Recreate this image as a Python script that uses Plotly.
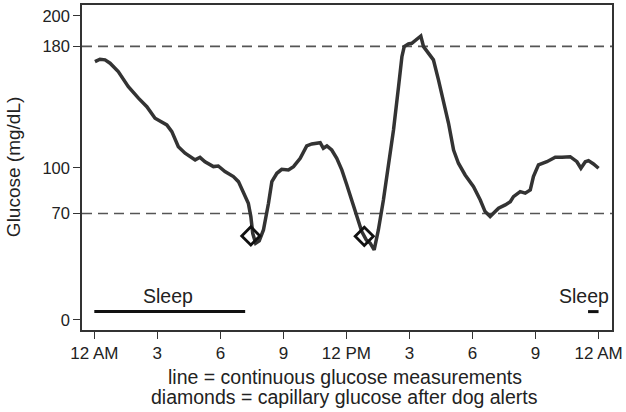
import plotly.graph_objects as go

# Continuous glucose trace (hours since midnight, mg/dL)
cgm_hours = [0.03, 0.27, 0.51, 0.75, 1.14, 1.62, 2.10, 2.50, 2.89, 3.45, 3.69, 4.00, 4.32, 4.80,
             5.03, 5.27, 5.67, 5.90, 6.22, 6.62, 6.86, 7.10, 7.33, 7.45, 7.54, 7.68, 7.85, 8.05,
             8.21, 8.29, 8.45, 8.69, 8.92, 9.24, 9.48, 9.80, 10.11, 10.35, 10.75, 10.90, 11.07,
             11.30, 11.54, 11.78, 12.02, 12.26, 12.50, 12.73, 12.95, 13.13, 13.32, 13.52, 13.76,
             14.00, 14.24, 14.48, 14.64, 14.75, 14.95, 15.11, 15.35, 15.54, 15.67, 15.90, 16.14,
             16.38, 16.62, 16.86, 17.10, 17.33, 17.65, 18.05, 18.37, 18.60, 18.84, 19.08, 19.24,
             19.56, 19.80, 19.95, 20.27, 20.51, 20.75, 20.90, 21.14, 21.54, 21.94, 22.26, 22.65,
             22.97, 23.16, 23.37, 23.52, 23.76, 24.00]
cgm_values = [169.9, 171.5, 171.1, 168.9, 163.4, 153.5, 145.9, 140.3, 132.7, 128.3, 123.9, 114.0,
              109.7, 105.3, 107.0, 104.1, 100.9, 101.3, 97.6, 94.3, 91.0, 84.4, 76.8, 68.0, 57.0,
              50.5, 52.0, 59.2, 70.2, 76.8, 91.0, 96.5, 99.1, 98.7, 100.9, 106.4, 114.5, 115.8,
              116.6, 113.0, 114.5, 111.8, 106.4, 98.7, 88.8, 78.9, 68.0, 58.1, 52.5, 50.5, 46.1,
              59.2, 78.9, 103.1, 125.0, 153.5, 173.2, 179.8, 181.6, 182.0, 184.7, 186.8, 179.8,
              175.5, 171.1, 157.9, 144.7, 129.4, 111.8, 103.1, 95.4, 87.7, 78.9, 71.3, 68.0, 71.3,
              73.5, 75.7, 77.8, 81.1, 84.4, 83.4, 85.5, 94.3, 102.0, 104.1, 107.0, 107.0, 107.4,
              104.1, 99.8, 104.1, 104.8, 102.6, 99.8]

# Capillary glucose after dog alerts
alert_hours = [7.45, 12.85]
alert_values = [55.3, 55.0]

# Sleep periods
sleep_periods = [(0.0, 7.18), (23.5, 24.0)]
sleep_level = 5.5
sleep_label_hours = [3.5, 23.3]
sleep_label_level = 16

# Reference thresholds
thresholds = [70, 180]

x_tickvals = [0, 3, 6, 9, 12, 15, 18, 21, 24]
x_ticktext = ["12 AM", "3", "6", "9", "12 PM", "3", "6", "9", "12 AM"]
y_tickvals = [0, 70, 100, 180, 200]

x_title_lines = ["line = continuous glucose measurements",
                 "diamonds = capillary glucose after dog alerts"]
y_title = "Glucose (mg/dL)"

font_family = "Liberation Sans, Arial, sans-serif"
text_color = "#222222"

fig = go.Figure()

for t in thresholds:
    fig.add_hline(y=t, line=dict(color="#555555", width=1.6, dash="10px,6px"), layer="below")

for (s, e) in sleep_periods:
    fig.add_trace(go.Scatter(x=[s, e], y=[sleep_level, sleep_level], mode="lines",
                             line=dict(color="#111111", width=3), showlegend=False,
                             hoverinfo="skip"))

fig.add_trace(go.Scatter(x=cgm_hours, y=cgm_values, mode="lines",
                         line=dict(color="#333333", width=3.5), showlegend=False))

fig.add_trace(go.Scatter(x=alert_hours, y=alert_values, mode="markers",
                         marker=dict(symbol="diamond-open", size=14, color="#111111",
                                     line=dict(width=2.8, color="#111111")),
                         showlegend=False))

for h in sleep_label_hours:
    fig.add_annotation(x=h, y=sleep_label_level, text="Sleep", showarrow=False,
                       font=dict(family=font_family, size=19.5, color=text_color))

for txt, yy in zip(x_title_lines, [-0.144, -0.206]):
    fig.add_annotation(xref="paper", yref="paper", x=0.496, y=yy, text=txt,
                       showarrow=False, xanchor="center", yanchor="middle",
                       font=dict(family=font_family, size=19.5, color=text_color))

fig.add_annotation(xref="paper", yref="paper", x=-0.129, y=0.5, text=y_title,
                   textangle=-90, showarrow=False, xanchor="center", yanchor="middle",
                   font=dict(family=font_family, size=19, color=text_color))

fig.update_layout(
    width=626, height=412,
    margin=dict(l=82, r=14, t=5, b=82),
    paper_bgcolor="white", plot_bgcolor="white",
    font=dict(family=font_family, size=17, color=text_color),
)
fig.update_xaxes(
    range=[-0.586, 24.64], tickvals=x_tickvals, ticktext=x_ticktext,
    showgrid=False, zeroline=False, showline=True, mirror=True, automargin=False,
    linecolor="#333333", linewidth=1.5, ticks="outside", ticklen=7, tickwidth=1.3,
    tickcolor="#333333", tickfont=dict(size=17),
)
fig.update_yaxes(
    range=[-6.6, 207.2], tickvals=y_tickvals,
    showgrid=False, zeroline=False, showline=True, mirror=True, automargin=False,
    linecolor="#333333", linewidth=1.5, ticks="outside", ticklen=7, tickwidth=1.3,
    tickcolor="#333333", tickfont=dict(size=16.5),
)

fig.write_html("out.html", config={"displayModeBar": False},
               post_script="document.body.style.margin='0';document.body.style.padding='0';")
